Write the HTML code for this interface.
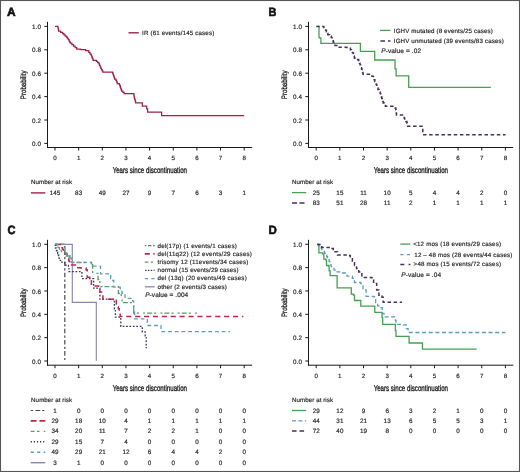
<!DOCTYPE html>
<html><head><meta charset="utf-8"><style>
html,body{margin:0;padding:0;background:#fff;}
svg{display:block;font-family:"Liberation Sans", sans-serif;will-change:transform;text-rendering:geometricPrecision;}
</style></head><body>
<svg width="520" height="472" viewBox="0 0 520 472">
<rect width="520" height="472" fill="#fff"/>
<text x="7.00" y="15.50" font-size="12.0" textLength="8.6" lengthAdjust="spacingAndGlyphs" font-weight="bold" fill="#111" stroke="#111" stroke-width="0.6">A</text>
<line x1="47.50" y1="21.80" x2="47.50" y2="148.00" stroke="#1a1a1a" stroke-width="1"/>
<line x1="47.00" y1="147.50" x2="252.20" y2="147.50" stroke="#1a1a1a" stroke-width="1"/>
<line x1="44.30" y1="143.40" x2="47.50" y2="143.40" stroke="#1a1a1a" stroke-width="1"/>
<text x="41.00" y="145.95" font-size="6.3" text-anchor="end" letter-spacing="0.1" fill="#2a2a2a" stroke="#2a2a2a" stroke-width="0.18">0.0</text>
<line x1="44.30" y1="120.00" x2="47.50" y2="120.00" stroke="#1a1a1a" stroke-width="1"/>
<text x="41.00" y="122.55" font-size="6.3" text-anchor="end" letter-spacing="0.1" fill="#2a2a2a" stroke="#2a2a2a" stroke-width="0.18">0.2</text>
<line x1="44.30" y1="96.60" x2="47.50" y2="96.60" stroke="#1a1a1a" stroke-width="1"/>
<text x="41.00" y="99.15" font-size="6.3" text-anchor="end" letter-spacing="0.1" fill="#2a2a2a" stroke="#2a2a2a" stroke-width="0.18">0.4</text>
<line x1="44.30" y1="73.20" x2="47.50" y2="73.20" stroke="#1a1a1a" stroke-width="1"/>
<text x="41.00" y="75.75" font-size="6.3" text-anchor="end" letter-spacing="0.1" fill="#2a2a2a" stroke="#2a2a2a" stroke-width="0.18">0.6</text>
<line x1="44.30" y1="49.80" x2="47.50" y2="49.80" stroke="#1a1a1a" stroke-width="1"/>
<text x="41.00" y="52.35" font-size="6.3" text-anchor="end" letter-spacing="0.1" fill="#2a2a2a" stroke="#2a2a2a" stroke-width="0.18">0.8</text>
<line x1="44.30" y1="26.40" x2="47.50" y2="26.40" stroke="#1a1a1a" stroke-width="1"/>
<text x="41.00" y="28.95" font-size="6.3" text-anchor="end" letter-spacing="0.1" fill="#2a2a2a" stroke="#2a2a2a" stroke-width="0.18">1.0</text>
<line x1="55.00" y1="147.50" x2="55.00" y2="150.50" stroke="#1a1a1a" stroke-width="1"/>
<text x="55.00" y="159.80" font-size="6.2" text-anchor="middle" fill="#2a2a2a" stroke="#2a2a2a" stroke-width="0.18">0</text>
<line x1="78.65" y1="147.50" x2="78.65" y2="150.50" stroke="#1a1a1a" stroke-width="1"/>
<text x="78.65" y="159.80" font-size="6.2" text-anchor="middle" fill="#2a2a2a" stroke="#2a2a2a" stroke-width="0.18">1</text>
<line x1="102.30" y1="147.50" x2="102.30" y2="150.50" stroke="#1a1a1a" stroke-width="1"/>
<text x="102.30" y="159.80" font-size="6.2" text-anchor="middle" fill="#2a2a2a" stroke="#2a2a2a" stroke-width="0.18">2</text>
<line x1="125.95" y1="147.50" x2="125.95" y2="150.50" stroke="#1a1a1a" stroke-width="1"/>
<text x="125.95" y="159.80" font-size="6.2" text-anchor="middle" fill="#2a2a2a" stroke="#2a2a2a" stroke-width="0.18">3</text>
<line x1="149.60" y1="147.50" x2="149.60" y2="150.50" stroke="#1a1a1a" stroke-width="1"/>
<text x="149.60" y="159.80" font-size="6.2" text-anchor="middle" fill="#2a2a2a" stroke="#2a2a2a" stroke-width="0.18">4</text>
<line x1="173.25" y1="147.50" x2="173.25" y2="150.50" stroke="#1a1a1a" stroke-width="1"/>
<text x="173.25" y="159.80" font-size="6.2" text-anchor="middle" fill="#2a2a2a" stroke="#2a2a2a" stroke-width="0.18">5</text>
<line x1="196.90" y1="147.50" x2="196.90" y2="150.50" stroke="#1a1a1a" stroke-width="1"/>
<text x="196.90" y="159.80" font-size="6.2" text-anchor="middle" fill="#2a2a2a" stroke="#2a2a2a" stroke-width="0.18">6</text>
<line x1="220.55" y1="147.50" x2="220.55" y2="150.50" stroke="#1a1a1a" stroke-width="1"/>
<text x="220.55" y="159.80" font-size="6.2" text-anchor="middle" fill="#2a2a2a" stroke="#2a2a2a" stroke-width="0.18">7</text>
<line x1="244.20" y1="147.50" x2="244.20" y2="150.50" stroke="#1a1a1a" stroke-width="1"/>
<text x="244.20" y="159.80" font-size="6.2" text-anchor="middle" fill="#2a2a2a" stroke="#2a2a2a" stroke-width="0.18">8</text>
<text x="149.85" y="173.20" font-size="8.4" text-anchor="middle" textLength="74.4" lengthAdjust="spacingAndGlyphs" fill="#1a1a1a" stroke="#1a1a1a" stroke-width="0.32">Years since discontinuation</text>
<text x="0" y="0" font-size="7.9" text-anchor="middle" textLength="28.6" lengthAdjust="spacingAndGlyphs" fill="#1e1e1e" stroke="#1e1e1e" stroke-width="0.3" transform="translate(25.60,84.85) rotate(-90)">Probability</text>
<line x1="128.50" y1="32.80" x2="138.80" y2="32.80" stroke="#9e2246" stroke-width="1.4"/>
<text x="142.10" y="34.80" font-size="6.2" textLength="72.1" lengthAdjust="spacing" fill="#2a2a2a" stroke="#2a2a2a" stroke-width="0.18">IR (61 events/145 cases)</text>
<path d="M55.00,26.40 L57.90,26.40 L57.90,27.40 L58.13,27.40 L58.13,28.67 L58.37,28.67 L58.37,29.93 L58.60,29.93 L58.60,31.20 L60.65,31.20 L60.65,32.45 L62.70,32.45 L62.70,33.70 L63.97,33.70 L63.97,34.87 L65.23,34.87 L65.23,36.03 L66.50,36.03 L66.50,37.20 L67.37,37.20 L67.37,38.47 L68.23,38.47 L68.23,39.73 L69.10,39.73 L69.10,41.00 L69.70,41.00 L69.70,42.05 L70.30,42.05 L70.30,43.10 L71.90,43.10 L71.90,44.55 L73.50,44.55 L73.50,46.00 L75.10,46.00 L75.10,47.60 L76.70,47.60 L76.70,49.20 L80.50,49.20 L80.50,49.50 L85.60,49.50 L85.60,50.50 L88.80,50.50 L88.80,52.40 L90.05,52.40 L90.05,54.00 L91.30,54.00 L91.30,55.60 L91.78,55.60 L91.78,56.80 L92.25,56.80 L92.25,58.00 L92.72,58.00 L92.72,59.20 L93.20,59.20 L93.20,60.40 L96.40,60.40 L96.40,61.30 L97.65,61.30 L97.65,62.55 L98.90,62.55 L98.90,63.80 L99.53,63.80 L99.53,65.30 L100.17,65.30 L100.17,66.80 L100.80,66.80 L100.80,68.30 L101.47,68.30 L101.47,69.57 L102.13,69.57 L102.13,70.83 L102.80,70.83 L102.80,72.10 L111.40,72.10 L112.70,72.10 L112.70,73.30 L113.17,73.30 L113.17,74.75 L113.65,74.75 L113.65,76.20 L114.12,76.20 L114.12,77.65 L114.60,77.65 L114.60,79.10 L115.90,79.10 L115.90,80.30 L116.55,80.30 L116.55,81.90 L117.20,81.90 L117.20,83.50 L119.10,83.50 L119.10,84.10 L119.70,84.10 L119.70,85.70 L120.30,85.70 L120.30,87.30 L120.73,87.30 L120.73,88.57 L121.17,88.57 L121.17,89.83 L121.60,89.83 L121.60,91.10 L122.85,91.10 L122.85,92.40 L124.10,92.40 L124.10,93.70 L133.70,93.70 L133.70,93.90 L133.90,93.90 L133.90,95.30 L134.10,95.30 L134.10,96.70 L134.30,96.70 L134.30,98.10 L134.73,98.10 L134.73,99.67 L135.17,99.67 L135.17,101.23 L135.60,101.23 L135.60,102.80 L142.30,102.80 L142.30,106.00 L146.20,106.00 L146.70,106.00 L146.70,108.80 L147.60,108.80 L147.60,112.00 L161.60,112.00 L161.60,115.70 L244.20,115.70" fill="none" stroke="#9e2246" stroke-width="1.25" stroke-linejoin="miter" stroke-linecap="butt"/>
<text x="31.00" y="184.00" font-size="6.2" textLength="41.0" lengthAdjust="spacing" fill="#2a2a2a" stroke="#2a2a2a" stroke-width="0.18">Number at risk</text>
<line x1="30.90" y1="192.90" x2="45.30" y2="192.90" stroke="#9e2246" stroke-width="1.4"/>
<text x="55.05" y="195.00" font-size="6.3" text-anchor="middle" letter-spacing="0.1" fill="#2a2a2a" stroke="#2a2a2a" stroke-width="0.18">145</text>
<text x="78.70" y="195.00" font-size="6.3" text-anchor="middle" letter-spacing="0.1" fill="#2a2a2a" stroke="#2a2a2a" stroke-width="0.18">83</text>
<text x="102.35" y="195.00" font-size="6.3" text-anchor="middle" letter-spacing="0.1" fill="#2a2a2a" stroke="#2a2a2a" stroke-width="0.18">49</text>
<text x="126.00" y="195.00" font-size="6.3" text-anchor="middle" letter-spacing="0.1" fill="#2a2a2a" stroke="#2a2a2a" stroke-width="0.18">27</text>
<text x="149.65" y="195.00" font-size="6.3" text-anchor="middle" letter-spacing="0.1" fill="#2a2a2a" stroke="#2a2a2a" stroke-width="0.18">9</text>
<text x="173.30" y="195.00" font-size="6.3" text-anchor="middle" letter-spacing="0.1" fill="#2a2a2a" stroke="#2a2a2a" stroke-width="0.18">7</text>
<text x="196.95" y="195.00" font-size="6.3" text-anchor="middle" letter-spacing="0.1" fill="#2a2a2a" stroke="#2a2a2a" stroke-width="0.18">6</text>
<text x="220.60" y="195.00" font-size="6.3" text-anchor="middle" letter-spacing="0.1" fill="#2a2a2a" stroke="#2a2a2a" stroke-width="0.18">3</text>
<text x="244.25" y="195.00" font-size="6.3" text-anchor="middle" letter-spacing="0.1" fill="#2a2a2a" stroke="#2a2a2a" stroke-width="0.18">1</text>
<text x="268.50" y="15.50" font-size="12.0" textLength="7.9" lengthAdjust="spacingAndGlyphs" font-weight="bold" fill="#111" stroke="#111" stroke-width="0.6">B</text>
<line x1="308.50" y1="21.80" x2="308.50" y2="148.00" stroke="#1a1a1a" stroke-width="1"/>
<line x1="308.00" y1="147.50" x2="513.20" y2="147.50" stroke="#1a1a1a" stroke-width="1"/>
<line x1="305.30" y1="143.40" x2="308.50" y2="143.40" stroke="#1a1a1a" stroke-width="1"/>
<text x="302.00" y="145.95" font-size="6.3" text-anchor="end" letter-spacing="0.1" fill="#2a2a2a" stroke="#2a2a2a" stroke-width="0.18">0.0</text>
<line x1="305.30" y1="120.00" x2="308.50" y2="120.00" stroke="#1a1a1a" stroke-width="1"/>
<text x="302.00" y="122.55" font-size="6.3" text-anchor="end" letter-spacing="0.1" fill="#2a2a2a" stroke="#2a2a2a" stroke-width="0.18">0.2</text>
<line x1="305.30" y1="96.60" x2="308.50" y2="96.60" stroke="#1a1a1a" stroke-width="1"/>
<text x="302.00" y="99.15" font-size="6.3" text-anchor="end" letter-spacing="0.1" fill="#2a2a2a" stroke="#2a2a2a" stroke-width="0.18">0.4</text>
<line x1="305.30" y1="73.20" x2="308.50" y2="73.20" stroke="#1a1a1a" stroke-width="1"/>
<text x="302.00" y="75.75" font-size="6.3" text-anchor="end" letter-spacing="0.1" fill="#2a2a2a" stroke="#2a2a2a" stroke-width="0.18">0.6</text>
<line x1="305.30" y1="49.80" x2="308.50" y2="49.80" stroke="#1a1a1a" stroke-width="1"/>
<text x="302.00" y="52.35" font-size="6.3" text-anchor="end" letter-spacing="0.1" fill="#2a2a2a" stroke="#2a2a2a" stroke-width="0.18">0.8</text>
<line x1="305.30" y1="26.40" x2="308.50" y2="26.40" stroke="#1a1a1a" stroke-width="1"/>
<text x="302.00" y="28.95" font-size="6.3" text-anchor="end" letter-spacing="0.1" fill="#2a2a2a" stroke="#2a2a2a" stroke-width="0.18">1.0</text>
<line x1="316.20" y1="147.50" x2="316.20" y2="150.50" stroke="#1a1a1a" stroke-width="1"/>
<text x="316.20" y="159.80" font-size="6.2" text-anchor="middle" fill="#2a2a2a" stroke="#2a2a2a" stroke-width="0.18">0</text>
<line x1="339.85" y1="147.50" x2="339.85" y2="150.50" stroke="#1a1a1a" stroke-width="1"/>
<text x="339.85" y="159.80" font-size="6.2" text-anchor="middle" fill="#2a2a2a" stroke="#2a2a2a" stroke-width="0.18">1</text>
<line x1="363.50" y1="147.50" x2="363.50" y2="150.50" stroke="#1a1a1a" stroke-width="1"/>
<text x="363.50" y="159.80" font-size="6.2" text-anchor="middle" fill="#2a2a2a" stroke="#2a2a2a" stroke-width="0.18">2</text>
<line x1="387.15" y1="147.50" x2="387.15" y2="150.50" stroke="#1a1a1a" stroke-width="1"/>
<text x="387.15" y="159.80" font-size="6.2" text-anchor="middle" fill="#2a2a2a" stroke="#2a2a2a" stroke-width="0.18">3</text>
<line x1="410.80" y1="147.50" x2="410.80" y2="150.50" stroke="#1a1a1a" stroke-width="1"/>
<text x="410.80" y="159.80" font-size="6.2" text-anchor="middle" fill="#2a2a2a" stroke="#2a2a2a" stroke-width="0.18">4</text>
<line x1="434.45" y1="147.50" x2="434.45" y2="150.50" stroke="#1a1a1a" stroke-width="1"/>
<text x="434.45" y="159.80" font-size="6.2" text-anchor="middle" fill="#2a2a2a" stroke="#2a2a2a" stroke-width="0.18">5</text>
<line x1="458.10" y1="147.50" x2="458.10" y2="150.50" stroke="#1a1a1a" stroke-width="1"/>
<text x="458.10" y="159.80" font-size="6.2" text-anchor="middle" fill="#2a2a2a" stroke="#2a2a2a" stroke-width="0.18">6</text>
<line x1="481.75" y1="147.50" x2="481.75" y2="150.50" stroke="#1a1a1a" stroke-width="1"/>
<text x="481.75" y="159.80" font-size="6.2" text-anchor="middle" fill="#2a2a2a" stroke="#2a2a2a" stroke-width="0.18">7</text>
<line x1="505.40" y1="147.50" x2="505.40" y2="150.50" stroke="#1a1a1a" stroke-width="1"/>
<text x="505.40" y="159.80" font-size="6.2" text-anchor="middle" fill="#2a2a2a" stroke="#2a2a2a" stroke-width="0.18">8</text>
<text x="410.85" y="173.20" font-size="8.4" text-anchor="middle" textLength="74.4" lengthAdjust="spacingAndGlyphs" fill="#1a1a1a" stroke="#1a1a1a" stroke-width="0.32">Years since discontinuation</text>
<text x="0" y="0" font-size="7.9" text-anchor="middle" textLength="28.6" lengthAdjust="spacingAndGlyphs" fill="#1e1e1e" stroke="#1e1e1e" stroke-width="0.3" transform="translate(286.60,84.85) rotate(-90)">Probability</text>
<line x1="380.00" y1="30.40" x2="390.40" y2="30.40" stroke="#46a050" stroke-width="1.3"/>
<text x="393.80" y="32.50" font-size="6.2" textLength="99.1" lengthAdjust="spacing" fill="#2a2a2a" stroke="#2a2a2a" stroke-width="0.18">IGHV mutated (8 events/25 cases)</text>
<line x1="380.40" y1="41.00" x2="390.40" y2="41.00" stroke="#47305a" stroke-width="1.5" stroke-dasharray="4.6 3"/>
<text x="393.80" y="42.80" font-size="6.2" textLength="110.0" lengthAdjust="spacing" fill="#2a2a2a" stroke="#2a2a2a" stroke-width="0.18">IGHV unmutated (39 events/83 cases)</text>
<text x="381.3" y="53.0" font-size="6.5" textLength="39.7" lengthAdjust="spacing" fill="#2a2a2a" stroke="#2a2a2a" stroke-width="0.2"><tspan font-style="italic">P</tspan>-value = .02</text>
<path d="M316.40,26.40 L319.00,26.40 L319.00,37.80 L320.90,37.80 L320.90,43.30 L360.40,43.30 L360.40,51.40 L374.70,51.40 L374.70,60.00 L395.00,60.00 L395.00,68.80 L396.10,68.80 L396.10,75.80 L408.70,75.80 L408.70,87.30 L490.80,87.30" fill="none" stroke="#46a050" stroke-width="1.3" stroke-linejoin="miter" stroke-linecap="butt"/>
<path d="M316.40,26.50 L322.00,26.50 L323.85,26.50 L323.85,28.40 L325.70,28.40 L325.70,30.20 L326.40,30.20 L326.40,31.73 L327.10,31.73 L327.10,33.27 L327.80,33.27 L327.80,34.80 L329.50,34.80 L329.50,36.20 L331.20,36.20 L331.20,37.60 L332.05,37.60 L332.05,39.20 L332.90,39.20 L332.90,40.80 L333.30,40.80 L333.30,42.05 L333.70,42.05 L333.70,43.30 L335.00,43.30 L335.00,45.40 L339.20,45.40 L339.20,47.30 L346.50,47.30 L346.50,47.50 L350.40,47.50 L350.40,49.80 L351.40,49.80 L351.40,51.30 L352.40,51.30 L352.40,52.80 L353.40,52.80 L353.40,54.30 L353.87,54.30 L353.87,56.03 L354.33,56.03 L354.33,57.77 L354.80,57.77 L354.80,59.50 L358.50,59.50 L358.50,60.50 L359.00,60.50 L359.00,61.90 L359.50,61.90 L359.50,63.30 L360.00,63.30 L360.00,64.70 L360.50,64.70 L360.50,66.17 L361.00,66.17 L361.00,67.63 L361.50,67.63 L361.50,69.10 L362.00,69.10 L362.00,70.83 L362.50,70.83 L362.50,72.57 L363.00,72.57 L363.00,74.30 L370.40,74.30 L370.40,74.60 L371.90,74.60 L371.90,76.30 L373.40,76.30 L373.40,78.00 L374.13,78.00 L374.13,79.73 L374.87,79.73 L374.87,81.47 L375.60,81.47 L375.60,83.20 L376.20,83.20 L376.20,84.80 L376.80,84.80 L376.80,86.40 L377.40,86.40 L377.40,88.00 L378.00,88.00 L378.00,89.60 L379.10,89.60 L379.10,91.50 L380.20,91.50 L380.20,93.40 L380.70,93.40 L380.70,95.10 L381.20,95.10 L381.20,96.80 L381.70,96.80 L381.70,98.50 L382.20,98.50 L382.20,100.00 L382.70,100.00 L382.70,101.50 L383.20,101.50 L383.20,103.00 L384.30,103.00 L384.30,104.60 L385.40,104.60 L385.40,106.20 L394.30,106.20 L395.05,106.20 L395.05,107.95 L395.80,107.95 L395.80,109.70 L396.03,109.70 L396.03,111.47 L396.27,111.47 L396.27,113.23 L396.50,113.23 L396.50,115.00 L403.20,115.00 L403.70,115.00 L403.70,116.60 L404.20,116.60 L404.20,118.20 L404.70,118.20 L404.70,119.80 L405.80,119.80 L405.80,121.40 L406.90,121.40 L406.90,123.00 L407.25,123.00 L407.25,124.65 L407.60,124.65 L407.60,126.30 L422.80,126.30 L422.80,134.80 L505.60,134.80" fill="none" stroke="#47305a" stroke-width="1.5" stroke-dasharray="3.5 2.65" stroke-dashoffset="0.35" stroke-linejoin="miter" stroke-linecap="butt"/>
<text x="292.00" y="184.00" font-size="6.2" textLength="41.0" lengthAdjust="spacing" fill="#2a2a2a" stroke="#2a2a2a" stroke-width="0.18">Number at risk</text>
<line x1="292.00" y1="192.60" x2="306.20" y2="192.60" stroke="#46a050" stroke-width="1.3"/>
<line x1="292.00" y1="203.00" x2="306.20" y2="203.00" stroke="#47305a" stroke-width="1.5" stroke-dasharray="5 2.5"/>
<text x="316.25" y="194.80" font-size="6.3" text-anchor="middle" letter-spacing="0.1" fill="#2a2a2a" stroke="#2a2a2a" stroke-width="0.18">25</text>
<text x="339.90" y="194.80" font-size="6.3" text-anchor="middle" letter-spacing="0.1" fill="#2a2a2a" stroke="#2a2a2a" stroke-width="0.18">15</text>
<text x="363.55" y="194.80" font-size="6.3" text-anchor="middle" letter-spacing="0.1" fill="#2a2a2a" stroke="#2a2a2a" stroke-width="0.18">11</text>
<text x="387.20" y="194.80" font-size="6.3" text-anchor="middle" letter-spacing="0.1" fill="#2a2a2a" stroke="#2a2a2a" stroke-width="0.18">10</text>
<text x="410.85" y="194.80" font-size="6.3" text-anchor="middle" letter-spacing="0.1" fill="#2a2a2a" stroke="#2a2a2a" stroke-width="0.18">5</text>
<text x="434.50" y="194.80" font-size="6.3" text-anchor="middle" letter-spacing="0.1" fill="#2a2a2a" stroke="#2a2a2a" stroke-width="0.18">4</text>
<text x="458.15" y="194.80" font-size="6.3" text-anchor="middle" letter-spacing="0.1" fill="#2a2a2a" stroke="#2a2a2a" stroke-width="0.18">4</text>
<text x="481.80" y="194.80" font-size="6.3" text-anchor="middle" letter-spacing="0.1" fill="#2a2a2a" stroke="#2a2a2a" stroke-width="0.18">2</text>
<text x="505.45" y="194.80" font-size="6.3" text-anchor="middle" letter-spacing="0.1" fill="#2a2a2a" stroke="#2a2a2a" stroke-width="0.18">0</text>
<text x="316.25" y="205.20" font-size="6.3" text-anchor="middle" letter-spacing="0.1" fill="#2a2a2a" stroke="#2a2a2a" stroke-width="0.18">83</text>
<text x="339.90" y="205.20" font-size="6.3" text-anchor="middle" letter-spacing="0.1" fill="#2a2a2a" stroke="#2a2a2a" stroke-width="0.18">51</text>
<text x="363.55" y="205.20" font-size="6.3" text-anchor="middle" letter-spacing="0.1" fill="#2a2a2a" stroke="#2a2a2a" stroke-width="0.18">28</text>
<text x="387.20" y="205.20" font-size="6.3" text-anchor="middle" letter-spacing="0.1" fill="#2a2a2a" stroke="#2a2a2a" stroke-width="0.18">11</text>
<text x="410.85" y="205.20" font-size="6.3" text-anchor="middle" letter-spacing="0.1" fill="#2a2a2a" stroke="#2a2a2a" stroke-width="0.18">2</text>
<text x="434.50" y="205.20" font-size="6.3" text-anchor="middle" letter-spacing="0.1" fill="#2a2a2a" stroke="#2a2a2a" stroke-width="0.18">1</text>
<text x="458.15" y="205.20" font-size="6.3" text-anchor="middle" letter-spacing="0.1" fill="#2a2a2a" stroke="#2a2a2a" stroke-width="0.18">1</text>
<text x="481.80" y="205.20" font-size="6.3" text-anchor="middle" letter-spacing="0.1" fill="#2a2a2a" stroke="#2a2a2a" stroke-width="0.18">1</text>
<text x="505.45" y="205.20" font-size="6.3" text-anchor="middle" letter-spacing="0.1" fill="#2a2a2a" stroke="#2a2a2a" stroke-width="0.18">1</text>
<text x="7.40" y="233.70" font-size="12.0" textLength="8.0" lengthAdjust="spacingAndGlyphs" font-weight="bold" fill="#111" stroke="#111" stroke-width="0.6">C</text>
<line x1="47.50" y1="239.80" x2="47.50" y2="365.70" stroke="#1a1a1a" stroke-width="1"/>
<line x1="47.00" y1="365.20" x2="252.20" y2="365.20" stroke="#1a1a1a" stroke-width="1"/>
<line x1="44.30" y1="361.00" x2="47.50" y2="361.00" stroke="#1a1a1a" stroke-width="1"/>
<text x="41.00" y="363.55" font-size="6.3" text-anchor="end" letter-spacing="0.1" fill="#2a2a2a" stroke="#2a2a2a" stroke-width="0.18">0.0</text>
<line x1="44.30" y1="337.66" x2="47.50" y2="337.66" stroke="#1a1a1a" stroke-width="1"/>
<text x="41.00" y="340.21" font-size="6.3" text-anchor="end" letter-spacing="0.1" fill="#2a2a2a" stroke="#2a2a2a" stroke-width="0.18">0.2</text>
<line x1="44.30" y1="314.32" x2="47.50" y2="314.32" stroke="#1a1a1a" stroke-width="1"/>
<text x="41.00" y="316.87" font-size="6.3" text-anchor="end" letter-spacing="0.1" fill="#2a2a2a" stroke="#2a2a2a" stroke-width="0.18">0.4</text>
<line x1="44.30" y1="290.98" x2="47.50" y2="290.98" stroke="#1a1a1a" stroke-width="1"/>
<text x="41.00" y="293.53" font-size="6.3" text-anchor="end" letter-spacing="0.1" fill="#2a2a2a" stroke="#2a2a2a" stroke-width="0.18">0.6</text>
<line x1="44.30" y1="267.64" x2="47.50" y2="267.64" stroke="#1a1a1a" stroke-width="1"/>
<text x="41.00" y="270.19" font-size="6.3" text-anchor="end" letter-spacing="0.1" fill="#2a2a2a" stroke="#2a2a2a" stroke-width="0.18">0.8</text>
<line x1="44.30" y1="244.30" x2="47.50" y2="244.30" stroke="#1a1a1a" stroke-width="1"/>
<text x="41.00" y="246.85" font-size="6.3" text-anchor="end" letter-spacing="0.1" fill="#2a2a2a" stroke="#2a2a2a" stroke-width="0.18">1.0</text>
<line x1="55.00" y1="365.20" x2="55.00" y2="368.20" stroke="#1a1a1a" stroke-width="1"/>
<text x="55.00" y="377.50" font-size="6.2" text-anchor="middle" fill="#2a2a2a" stroke="#2a2a2a" stroke-width="0.18">0</text>
<line x1="78.65" y1="365.20" x2="78.65" y2="368.20" stroke="#1a1a1a" stroke-width="1"/>
<text x="78.65" y="377.50" font-size="6.2" text-anchor="middle" fill="#2a2a2a" stroke="#2a2a2a" stroke-width="0.18">1</text>
<line x1="102.30" y1="365.20" x2="102.30" y2="368.20" stroke="#1a1a1a" stroke-width="1"/>
<text x="102.30" y="377.50" font-size="6.2" text-anchor="middle" fill="#2a2a2a" stroke="#2a2a2a" stroke-width="0.18">2</text>
<line x1="125.95" y1="365.20" x2="125.95" y2="368.20" stroke="#1a1a1a" stroke-width="1"/>
<text x="125.95" y="377.50" font-size="6.2" text-anchor="middle" fill="#2a2a2a" stroke="#2a2a2a" stroke-width="0.18">3</text>
<line x1="149.60" y1="365.20" x2="149.60" y2="368.20" stroke="#1a1a1a" stroke-width="1"/>
<text x="149.60" y="377.50" font-size="6.2" text-anchor="middle" fill="#2a2a2a" stroke="#2a2a2a" stroke-width="0.18">4</text>
<line x1="173.25" y1="365.20" x2="173.25" y2="368.20" stroke="#1a1a1a" stroke-width="1"/>
<text x="173.25" y="377.50" font-size="6.2" text-anchor="middle" fill="#2a2a2a" stroke="#2a2a2a" stroke-width="0.18">5</text>
<line x1="196.90" y1="365.20" x2="196.90" y2="368.20" stroke="#1a1a1a" stroke-width="1"/>
<text x="196.90" y="377.50" font-size="6.2" text-anchor="middle" fill="#2a2a2a" stroke="#2a2a2a" stroke-width="0.18">6</text>
<line x1="220.55" y1="365.20" x2="220.55" y2="368.20" stroke="#1a1a1a" stroke-width="1"/>
<text x="220.55" y="377.50" font-size="6.2" text-anchor="middle" fill="#2a2a2a" stroke="#2a2a2a" stroke-width="0.18">7</text>
<line x1="244.20" y1="365.20" x2="244.20" y2="368.20" stroke="#1a1a1a" stroke-width="1"/>
<text x="244.20" y="377.50" font-size="6.2" text-anchor="middle" fill="#2a2a2a" stroke="#2a2a2a" stroke-width="0.18">8</text>
<text x="149.85" y="390.90" font-size="8.4" text-anchor="middle" textLength="74.4" lengthAdjust="spacingAndGlyphs" fill="#1a1a1a" stroke="#1a1a1a" stroke-width="0.32">Years since discontinuation</text>
<text x="0" y="0" font-size="7.9" text-anchor="middle" textLength="28.6" lengthAdjust="spacingAndGlyphs" fill="#1e1e1e" stroke="#1e1e1e" stroke-width="0.3" transform="translate(25.60,302.70) rotate(-90)">Probability</text>
<line x1="144.80" y1="245.70" x2="154.60" y2="245.70" stroke="#4a4a4a" stroke-width="1.1" stroke-dasharray="1.6 1.6 3.4 1.6"/>
<text x="157.60" y="247.60" font-size="6.2" textLength="79.1" lengthAdjust="spacing" fill="#2a2a2a" stroke="#2a2a2a" stroke-width="0.18">del(17p) (1 events/1 cases)</text>
<line x1="144.80" y1="253.92" x2="154.60" y2="253.92" stroke="#b82a48" stroke-width="1.6" stroke-dasharray="5 3.5"/>
<text x="157.60" y="255.82" font-size="6.2" textLength="94.3" lengthAdjust="spacing" fill="#2a2a2a" stroke="#2a2a2a" stroke-width="0.18">del(11q22) (12 events/29 cases)</text>
<line x1="144.80" y1="262.14" x2="154.60" y2="262.14" stroke="#5a9e62" stroke-width="1.3" stroke-dasharray="3.6 2.4 2.2 2.4"/>
<text x="157.60" y="264.04" font-size="6.2" textLength="90.6" lengthAdjust="spacing" fill="#2a2a2a" stroke="#2a2a2a" stroke-width="0.18">trisomy 12 (11events/34 cases)</text>
<line x1="145.10" y1="270.36" x2="154.60" y2="270.36" stroke="#30365e" stroke-width="1.4" stroke-dasharray="1.4 1.45"/>
<text x="157.60" y="272.26" font-size="6.2" textLength="81.0" lengthAdjust="spacing" fill="#2a2a2a" stroke="#2a2a2a" stroke-width="0.18">normal (15 events/29 cases)</text>
<line x1="144.80" y1="278.58" x2="154.60" y2="278.58" stroke="#5c9cba" stroke-width="1.3" stroke-dasharray="3.2 3.4"/>
<text x="157.60" y="280.48" font-size="6.2" textLength="89.1" lengthAdjust="spacing" fill="#2a2a2a" stroke="#2a2a2a" stroke-width="0.18">del (13q) (20 events/49 cases)</text>
<line x1="144.80" y1="286.80" x2="154.60" y2="286.80" stroke="#8a86ae" stroke-width="1.3"/>
<text x="157.60" y="288.70" font-size="6.2" textLength="69.2" lengthAdjust="spacing" fill="#2a2a2a" stroke="#2a2a2a" stroke-width="0.18">other (2 events/3 cases)</text>
<text x="145.2" y="296.7" font-size="6.5" textLength="43.0" lengthAdjust="spacing" fill="#2a2a2a" stroke="#2a2a2a" stroke-width="0.2"><tspan font-style="italic">P</tspan>-value = .004</text>
<path d="M55.10,244.30 L72.30,244.30 L72.30,302.30 L96.30,302.30 L96.30,360.80" fill="none" stroke="#8a86ae" stroke-width="1.15" stroke-linejoin="miter" stroke-linecap="butt"/>
<path d="M55.10,244.40 L64.80,244.40 L64.80,360.00" fill="none" stroke="#4a4a4a" stroke-width="1.2" stroke-dasharray="2.2 2.2 4.6 2.2" stroke-linejoin="miter" stroke-linecap="butt"/>
<path d="M55.10,244.40 L55.30,244.40 L55.30,246.20 L55.50,246.20 L55.50,248.00 L56.00,248.00 L56.00,249.37 L56.50,249.37 L56.50,250.73 L57.00,250.73 L57.00,252.10 L57.65,252.10 L57.65,253.50 L58.30,253.50 L58.30,254.90 L58.60,254.90 L58.60,256.50 L58.90,256.50 L58.90,258.10 L59.50,258.10 L59.50,260.30 L60.50,260.30 L60.50,262.20 L63.70,262.20 L63.70,262.60 L64.90,262.60 L64.90,265.10 L67.80,265.10 L67.80,265.40 L68.40,265.40 L68.40,267.30 L69.00,267.30 L69.00,271.60 L80.80,271.60 L81.90,271.60 L81.90,278.60 L91.40,278.60 L93.60,278.60 L93.60,288.20 L98.80,288.20 L99.90,288.20 L99.90,299.20 L113.50,299.20 L113.50,299.60 L114.40,299.60 L114.40,308.80 L115.40,308.80 L115.40,317.20 L120.50,317.20 L120.80,317.20 L120.80,326.40 L141.30,326.40 L142.30,326.40 L142.30,331.90 L145.20,331.90 L145.20,335.80 L146.20,335.80 L146.20,348.30" fill="none" stroke="#30365e" stroke-width="1.3" stroke-dasharray="1.7 1.7" stroke-linejoin="miter" stroke-linecap="butt"/>
<path d="M55.10,244.40 L60.00,244.40 L60.00,246.00 L61.25,246.00 L61.25,247.75 L62.50,247.75 L62.50,249.50 L63.55,249.50 L63.55,251.10 L64.60,251.10 L64.60,252.70 L65.90,252.70 L65.90,254.00 L67.20,254.00 L67.20,255.30 L67.80,255.30 L67.80,256.85 L68.40,256.85 L68.40,258.40 L68.75,258.40 L68.75,260.00 L69.10,260.00 L69.10,261.60 L70.50,261.60 L70.50,265.00 L75.50,265.00 L75.50,267.70 L80.80,267.70 L80.80,267.90 L86.10,267.90 L86.10,269.80 L87.20,269.80 L87.20,277.20 L90.40,277.20 L90.40,279.30 L91.40,279.30 L91.40,285.90 L98.80,285.90 L98.80,286.30 L99.90,286.30 L99.90,292.00 L102.90,292.00 L102.90,299.20 L113.50,299.20 L116.30,299.20 L116.30,306.90 L118.30,306.90 L118.30,308.80 L119.20,308.80 L119.20,312.70 L120.20,312.70 L120.20,316.40 L243.40,316.40" fill="none" stroke="#b82a48" stroke-width="1.5" stroke-dasharray="5.1 3.8" stroke-dashoffset="8.20" stroke-linejoin="miter" stroke-linecap="butt"/>
<path d="M55.10,244.40 L56.57,244.40 L56.57,246.00 L58.03,246.00 L58.03,247.60 L59.50,247.60 L59.50,249.20 L60.45,249.20 L60.45,250.95 L61.40,250.95 L61.40,252.70 L63.90,252.70 L63.90,252.80 L66.00,252.80 L66.00,256.00 L71.30,256.00 L71.30,262.50 L92.60,262.50 L92.60,273.30 L98.00,273.30 L98.00,279.50 L99.80,279.50 L99.80,286.60 L118.30,286.60 L118.30,293.50 L121.20,293.50 L121.20,298.30 L122.10,298.30 L122.10,302.70 L133.70,302.70 L133.70,313.10 L198.50,313.10" fill="none" stroke="#5a9e62" stroke-width="1.3" stroke-dasharray="2 2 5 2 2.2 4.1" stroke-dashoffset="16.30" stroke-linejoin="miter" stroke-linecap="butt"/>
<path d="M55.10,244.40 L64.60,244.40 L64.60,246.00 L64.77,246.00 L64.77,247.53 L64.95,247.53 L64.95,249.05 L65.12,249.05 L65.12,250.57 L65.30,250.57 L65.30,252.10 L66.20,252.10 L66.20,253.50 L67.10,253.50 L67.10,254.90 L68.23,254.90 L68.23,256.43 L69.37,256.43 L69.37,257.97 L70.50,257.97 L70.50,259.50 L71.30,259.50 L71.30,262.30 L91.50,262.30 L91.50,266.20 L100.50,266.20 L100.50,273.80 L110.70,273.80 L110.70,278.60 L112.80,278.60 L112.80,280.50 L113.80,280.50 L113.80,287.20 L120.20,287.20 L120.20,291.50 L122.00,291.50 L122.00,293.40 L125.00,293.40 L125.00,298.30 L132.70,298.30 L132.70,301.20 L133.70,301.20 L133.70,308.80 L134.60,308.80 L134.60,318.80 L147.30,318.80 L147.30,325.50 L161.00,325.50 L161.00,331.60 L230.00,331.60" fill="none" stroke="#5c9cba" stroke-width="1.3" stroke-dasharray="3.8 2.9" stroke-dashoffset="0.80" stroke-linejoin="miter" stroke-linecap="butt"/>
<text x="31.10" y="401.80" font-size="6.2" textLength="41.0" lengthAdjust="spacing" fill="#2a2a2a" stroke="#2a2a2a" stroke-width="0.18">Number at risk</text>
<line x1="30.70" y1="410.50" x2="45.30" y2="410.50" stroke="#4a4a4a" stroke-width="1.1" stroke-dasharray="2.3 2.5 4.8 1.8"/>
<text x="55.05" y="412.60" font-size="6.3" text-anchor="middle" letter-spacing="0.1" fill="#2a2a2a" stroke="#2a2a2a" stroke-width="0.18">1</text>
<text x="78.70" y="412.60" font-size="6.3" text-anchor="middle" letter-spacing="0.1" fill="#2a2a2a" stroke="#2a2a2a" stroke-width="0.18">0</text>
<text x="102.35" y="412.60" font-size="6.3" text-anchor="middle" letter-spacing="0.1" fill="#2a2a2a" stroke="#2a2a2a" stroke-width="0.18">0</text>
<text x="126.00" y="412.60" font-size="6.3" text-anchor="middle" letter-spacing="0.1" fill="#2a2a2a" stroke="#2a2a2a" stroke-width="0.18">0</text>
<text x="149.65" y="412.60" font-size="6.3" text-anchor="middle" letter-spacing="0.1" fill="#2a2a2a" stroke="#2a2a2a" stroke-width="0.18">0</text>
<text x="173.30" y="412.60" font-size="6.3" text-anchor="middle" letter-spacing="0.1" fill="#2a2a2a" stroke="#2a2a2a" stroke-width="0.18">0</text>
<text x="196.95" y="412.60" font-size="6.3" text-anchor="middle" letter-spacing="0.1" fill="#2a2a2a" stroke="#2a2a2a" stroke-width="0.18">0</text>
<text x="220.60" y="412.60" font-size="6.3" text-anchor="middle" letter-spacing="0.1" fill="#2a2a2a" stroke="#2a2a2a" stroke-width="0.18">0</text>
<text x="244.25" y="412.60" font-size="6.3" text-anchor="middle" letter-spacing="0.1" fill="#2a2a2a" stroke="#2a2a2a" stroke-width="0.18">0</text>
<line x1="30.70" y1="420.94" x2="45.30" y2="420.94" stroke="#b82a48" stroke-width="1.7" stroke-dasharray="5.8 3"/>
<text x="55.05" y="423.04" font-size="6.3" text-anchor="middle" letter-spacing="0.1" fill="#2a2a2a" stroke="#2a2a2a" stroke-width="0.18">29</text>
<text x="78.70" y="423.04" font-size="6.3" text-anchor="middle" letter-spacing="0.1" fill="#2a2a2a" stroke="#2a2a2a" stroke-width="0.18">18</text>
<text x="102.35" y="423.04" font-size="6.3" text-anchor="middle" letter-spacing="0.1" fill="#2a2a2a" stroke="#2a2a2a" stroke-width="0.18">10</text>
<text x="126.00" y="423.04" font-size="6.3" text-anchor="middle" letter-spacing="0.1" fill="#2a2a2a" stroke="#2a2a2a" stroke-width="0.18">4</text>
<text x="149.65" y="423.04" font-size="6.3" text-anchor="middle" letter-spacing="0.1" fill="#2a2a2a" stroke="#2a2a2a" stroke-width="0.18">1</text>
<text x="173.30" y="423.04" font-size="6.3" text-anchor="middle" letter-spacing="0.1" fill="#2a2a2a" stroke="#2a2a2a" stroke-width="0.18">1</text>
<text x="196.95" y="423.04" font-size="6.3" text-anchor="middle" letter-spacing="0.1" fill="#2a2a2a" stroke="#2a2a2a" stroke-width="0.18">1</text>
<text x="220.60" y="423.04" font-size="6.3" text-anchor="middle" letter-spacing="0.1" fill="#2a2a2a" stroke="#2a2a2a" stroke-width="0.18">1</text>
<text x="244.25" y="423.04" font-size="6.3" text-anchor="middle" letter-spacing="0.1" fill="#2a2a2a" stroke="#2a2a2a" stroke-width="0.18">1</text>
<line x1="30.70" y1="431.38" x2="45.30" y2="431.38" stroke="#5a9e62" stroke-width="1.3" stroke-dasharray="3.8 2.5 2.5 4.3"/>
<text x="55.05" y="433.48" font-size="6.3" text-anchor="middle" letter-spacing="0.1" fill="#2a2a2a" stroke="#2a2a2a" stroke-width="0.18">34</text>
<text x="78.70" y="433.48" font-size="6.3" text-anchor="middle" letter-spacing="0.1" fill="#2a2a2a" stroke="#2a2a2a" stroke-width="0.18">20</text>
<text x="102.35" y="433.48" font-size="6.3" text-anchor="middle" letter-spacing="0.1" fill="#2a2a2a" stroke="#2a2a2a" stroke-width="0.18">11</text>
<text x="126.00" y="433.48" font-size="6.3" text-anchor="middle" letter-spacing="0.1" fill="#2a2a2a" stroke="#2a2a2a" stroke-width="0.18">7</text>
<text x="149.65" y="433.48" font-size="6.3" text-anchor="middle" letter-spacing="0.1" fill="#2a2a2a" stroke="#2a2a2a" stroke-width="0.18">2</text>
<text x="173.30" y="433.48" font-size="6.3" text-anchor="middle" letter-spacing="0.1" fill="#2a2a2a" stroke="#2a2a2a" stroke-width="0.18">2</text>
<text x="196.95" y="433.48" font-size="6.3" text-anchor="middle" letter-spacing="0.1" fill="#2a2a2a" stroke="#2a2a2a" stroke-width="0.18">1</text>
<text x="220.60" y="433.48" font-size="6.3" text-anchor="middle" letter-spacing="0.1" fill="#2a2a2a" stroke="#2a2a2a" stroke-width="0.18">0</text>
<text x="244.25" y="433.48" font-size="6.3" text-anchor="middle" letter-spacing="0.1" fill="#2a2a2a" stroke="#2a2a2a" stroke-width="0.18">0</text>
<line x1="30.70" y1="441.82" x2="45.30" y2="441.82" stroke="#30365e" stroke-width="1.4" stroke-dasharray="1.2 1.9"/>
<text x="55.05" y="443.92" font-size="6.3" text-anchor="middle" letter-spacing="0.1" fill="#2a2a2a" stroke="#2a2a2a" stroke-width="0.18">29</text>
<text x="78.70" y="443.92" font-size="6.3" text-anchor="middle" letter-spacing="0.1" fill="#2a2a2a" stroke="#2a2a2a" stroke-width="0.18">15</text>
<text x="102.35" y="443.92" font-size="6.3" text-anchor="middle" letter-spacing="0.1" fill="#2a2a2a" stroke="#2a2a2a" stroke-width="0.18">7</text>
<text x="126.00" y="443.92" font-size="6.3" text-anchor="middle" letter-spacing="0.1" fill="#2a2a2a" stroke="#2a2a2a" stroke-width="0.18">4</text>
<text x="149.65" y="443.92" font-size="6.3" text-anchor="middle" letter-spacing="0.1" fill="#2a2a2a" stroke="#2a2a2a" stroke-width="0.18">0</text>
<text x="173.30" y="443.92" font-size="6.3" text-anchor="middle" letter-spacing="0.1" fill="#2a2a2a" stroke="#2a2a2a" stroke-width="0.18">0</text>
<text x="196.95" y="443.92" font-size="6.3" text-anchor="middle" letter-spacing="0.1" fill="#2a2a2a" stroke="#2a2a2a" stroke-width="0.18">0</text>
<text x="220.60" y="443.92" font-size="6.3" text-anchor="middle" letter-spacing="0.1" fill="#2a2a2a" stroke="#2a2a2a" stroke-width="0.18">0</text>
<text x="244.25" y="443.92" font-size="6.3" text-anchor="middle" letter-spacing="0.1" fill="#2a2a2a" stroke="#2a2a2a" stroke-width="0.18">0</text>
<line x1="30.70" y1="452.26" x2="45.30" y2="452.26" stroke="#5c9cba" stroke-width="1.3" stroke-dasharray="3.1 3.4"/>
<text x="55.05" y="454.36" font-size="6.3" text-anchor="middle" letter-spacing="0.1" fill="#2a2a2a" stroke="#2a2a2a" stroke-width="0.18">49</text>
<text x="78.70" y="454.36" font-size="6.3" text-anchor="middle" letter-spacing="0.1" fill="#2a2a2a" stroke="#2a2a2a" stroke-width="0.18">29</text>
<text x="102.35" y="454.36" font-size="6.3" text-anchor="middle" letter-spacing="0.1" fill="#2a2a2a" stroke="#2a2a2a" stroke-width="0.18">21</text>
<text x="126.00" y="454.36" font-size="6.3" text-anchor="middle" letter-spacing="0.1" fill="#2a2a2a" stroke="#2a2a2a" stroke-width="0.18">12</text>
<text x="149.65" y="454.36" font-size="6.3" text-anchor="middle" letter-spacing="0.1" fill="#2a2a2a" stroke="#2a2a2a" stroke-width="0.18">6</text>
<text x="173.30" y="454.36" font-size="6.3" text-anchor="middle" letter-spacing="0.1" fill="#2a2a2a" stroke="#2a2a2a" stroke-width="0.18">4</text>
<text x="196.95" y="454.36" font-size="6.3" text-anchor="middle" letter-spacing="0.1" fill="#2a2a2a" stroke="#2a2a2a" stroke-width="0.18">4</text>
<text x="220.60" y="454.36" font-size="6.3" text-anchor="middle" letter-spacing="0.1" fill="#2a2a2a" stroke="#2a2a2a" stroke-width="0.18">2</text>
<text x="244.25" y="454.36" font-size="6.3" text-anchor="middle" letter-spacing="0.1" fill="#2a2a2a" stroke="#2a2a2a" stroke-width="0.18">0</text>
<line x1="30.70" y1="462.70" x2="45.30" y2="462.70" stroke="#8a86ae" stroke-width="1.4"/>
<text x="55.05" y="464.80" font-size="6.3" text-anchor="middle" letter-spacing="0.1" fill="#2a2a2a" stroke="#2a2a2a" stroke-width="0.18">3</text>
<text x="78.70" y="464.80" font-size="6.3" text-anchor="middle" letter-spacing="0.1" fill="#2a2a2a" stroke="#2a2a2a" stroke-width="0.18">1</text>
<text x="102.35" y="464.80" font-size="6.3" text-anchor="middle" letter-spacing="0.1" fill="#2a2a2a" stroke="#2a2a2a" stroke-width="0.18">0</text>
<text x="126.00" y="464.80" font-size="6.3" text-anchor="middle" letter-spacing="0.1" fill="#2a2a2a" stroke="#2a2a2a" stroke-width="0.18">0</text>
<text x="149.65" y="464.80" font-size="6.3" text-anchor="middle" letter-spacing="0.1" fill="#2a2a2a" stroke="#2a2a2a" stroke-width="0.18">0</text>
<text x="173.30" y="464.80" font-size="6.3" text-anchor="middle" letter-spacing="0.1" fill="#2a2a2a" stroke="#2a2a2a" stroke-width="0.18">0</text>
<text x="196.95" y="464.80" font-size="6.3" text-anchor="middle" letter-spacing="0.1" fill="#2a2a2a" stroke="#2a2a2a" stroke-width="0.18">0</text>
<text x="220.60" y="464.80" font-size="6.3" text-anchor="middle" letter-spacing="0.1" fill="#2a2a2a" stroke="#2a2a2a" stroke-width="0.18">0</text>
<text x="244.25" y="464.80" font-size="6.3" text-anchor="middle" letter-spacing="0.1" fill="#2a2a2a" stroke="#2a2a2a" stroke-width="0.18">0</text>
<text x="268.60" y="233.50" font-size="12.0" textLength="8.3" lengthAdjust="spacingAndGlyphs" font-weight="bold" fill="#111" stroke="#111" stroke-width="0.6">D</text>
<line x1="308.50" y1="239.80" x2="308.50" y2="365.70" stroke="#1a1a1a" stroke-width="1"/>
<line x1="308.00" y1="365.20" x2="513.20" y2="365.20" stroke="#1a1a1a" stroke-width="1"/>
<line x1="305.30" y1="361.00" x2="308.50" y2="361.00" stroke="#1a1a1a" stroke-width="1"/>
<text x="302.00" y="363.55" font-size="6.3" text-anchor="end" letter-spacing="0.1" fill="#2a2a2a" stroke="#2a2a2a" stroke-width="0.18">0.0</text>
<line x1="305.30" y1="337.66" x2="308.50" y2="337.66" stroke="#1a1a1a" stroke-width="1"/>
<text x="302.00" y="340.21" font-size="6.3" text-anchor="end" letter-spacing="0.1" fill="#2a2a2a" stroke="#2a2a2a" stroke-width="0.18">0.2</text>
<line x1="305.30" y1="314.32" x2="308.50" y2="314.32" stroke="#1a1a1a" stroke-width="1"/>
<text x="302.00" y="316.87" font-size="6.3" text-anchor="end" letter-spacing="0.1" fill="#2a2a2a" stroke="#2a2a2a" stroke-width="0.18">0.4</text>
<line x1="305.30" y1="290.98" x2="308.50" y2="290.98" stroke="#1a1a1a" stroke-width="1"/>
<text x="302.00" y="293.53" font-size="6.3" text-anchor="end" letter-spacing="0.1" fill="#2a2a2a" stroke="#2a2a2a" stroke-width="0.18">0.6</text>
<line x1="305.30" y1="267.64" x2="308.50" y2="267.64" stroke="#1a1a1a" stroke-width="1"/>
<text x="302.00" y="270.19" font-size="6.3" text-anchor="end" letter-spacing="0.1" fill="#2a2a2a" stroke="#2a2a2a" stroke-width="0.18">0.8</text>
<line x1="305.30" y1="244.30" x2="308.50" y2="244.30" stroke="#1a1a1a" stroke-width="1"/>
<text x="302.00" y="246.85" font-size="6.3" text-anchor="end" letter-spacing="0.1" fill="#2a2a2a" stroke="#2a2a2a" stroke-width="0.18">1.0</text>
<line x1="316.20" y1="365.20" x2="316.20" y2="368.20" stroke="#1a1a1a" stroke-width="1"/>
<text x="316.20" y="377.50" font-size="6.2" text-anchor="middle" fill="#2a2a2a" stroke="#2a2a2a" stroke-width="0.18">0</text>
<line x1="339.85" y1="365.20" x2="339.85" y2="368.20" stroke="#1a1a1a" stroke-width="1"/>
<text x="339.85" y="377.50" font-size="6.2" text-anchor="middle" fill="#2a2a2a" stroke="#2a2a2a" stroke-width="0.18">1</text>
<line x1="363.50" y1="365.20" x2="363.50" y2="368.20" stroke="#1a1a1a" stroke-width="1"/>
<text x="363.50" y="377.50" font-size="6.2" text-anchor="middle" fill="#2a2a2a" stroke="#2a2a2a" stroke-width="0.18">2</text>
<line x1="387.15" y1="365.20" x2="387.15" y2="368.20" stroke="#1a1a1a" stroke-width="1"/>
<text x="387.15" y="377.50" font-size="6.2" text-anchor="middle" fill="#2a2a2a" stroke="#2a2a2a" stroke-width="0.18">3</text>
<line x1="410.80" y1="365.20" x2="410.80" y2="368.20" stroke="#1a1a1a" stroke-width="1"/>
<text x="410.80" y="377.50" font-size="6.2" text-anchor="middle" fill="#2a2a2a" stroke="#2a2a2a" stroke-width="0.18">4</text>
<line x1="434.45" y1="365.20" x2="434.45" y2="368.20" stroke="#1a1a1a" stroke-width="1"/>
<text x="434.45" y="377.50" font-size="6.2" text-anchor="middle" fill="#2a2a2a" stroke="#2a2a2a" stroke-width="0.18">5</text>
<line x1="458.10" y1="365.20" x2="458.10" y2="368.20" stroke="#1a1a1a" stroke-width="1"/>
<text x="458.10" y="377.50" font-size="6.2" text-anchor="middle" fill="#2a2a2a" stroke="#2a2a2a" stroke-width="0.18">6</text>
<line x1="481.75" y1="365.20" x2="481.75" y2="368.20" stroke="#1a1a1a" stroke-width="1"/>
<text x="481.75" y="377.50" font-size="6.2" text-anchor="middle" fill="#2a2a2a" stroke="#2a2a2a" stroke-width="0.18">7</text>
<line x1="505.40" y1="365.20" x2="505.40" y2="368.20" stroke="#1a1a1a" stroke-width="1"/>
<text x="505.40" y="377.50" font-size="6.2" text-anchor="middle" fill="#2a2a2a" stroke="#2a2a2a" stroke-width="0.18">8</text>
<text x="410.85" y="390.90" font-size="8.4" text-anchor="middle" textLength="74.4" lengthAdjust="spacingAndGlyphs" fill="#1a1a1a" stroke="#1a1a1a" stroke-width="0.32">Years since discontinuation</text>
<text x="0" y="0" font-size="7.9" text-anchor="middle" textLength="28.6" lengthAdjust="spacingAndGlyphs" fill="#1e1e1e" stroke="#1e1e1e" stroke-width="0.3" transform="translate(286.60,302.70) rotate(-90)">Probability</text>
<line x1="400.30" y1="244.10" x2="410.40" y2="244.10" stroke="#46a050" stroke-width="1.3"/>
<text x="413.20" y="246.40" font-size="6.2" textLength="87.8" lengthAdjust="spacing" fill="#2a2a2a" stroke="#2a2a2a" stroke-width="0.18">&lt;12 mos (18 events/29 cases)</text>
<line x1="400.30" y1="254.60" x2="410.40" y2="254.60" stroke="#5c9cba" stroke-width="1.3" stroke-dasharray="3.2 3.4"/>
<text x="414.30" y="256.50" font-size="6.2" textLength="98.0" lengthAdjust="spacing" fill="#2a2a2a" stroke="#2a2a2a" stroke-width="0.18">12 – 48 mos (28 events/44 cases)</text>
<line x1="400.30" y1="264.60" x2="410.40" y2="264.60" stroke="#47305a" stroke-width="1.5" stroke-dasharray="4 4.3"/>
<text x="413.60" y="266.40" font-size="6.2" textLength="87.4" lengthAdjust="spacing" fill="#2a2a2a" stroke="#2a2a2a" stroke-width="0.18">&gt;48 mos (15 events/72 cases)</text>
<text x="401.3" y="276.5" font-size="6.5" textLength="39.7" lengthAdjust="spacing" fill="#2a2a2a" stroke="#2a2a2a" stroke-width="0.2"><tspan font-style="italic">P</tspan>-value = .04</text>
<path d="M317.20,244.50 L318.90,244.50 L318.90,252.80 L322.70,252.80 L322.70,253.90 L323.80,253.90 L323.80,259.20 L325.90,259.20 L325.90,260.20 L326.50,260.20 L326.50,265.50 L328.50,265.50 L328.50,266.00 L329.10,266.00 L329.10,270.80 L330.10,270.80 L330.10,275.70 L337.10,275.70 L337.10,287.80 L350.30,287.80 L351.30,287.80 L351.30,294.10 L353.40,294.10 L353.40,295.20 L354.50,295.20 L354.50,300.50 L360.80,300.50 L360.80,306.20 L374.60,306.20 L374.80,306.20 L374.80,312.30 L381.60,312.30 L381.60,312.50 L382.10,312.50 L382.10,317.90 L382.70,317.90 L382.70,324.30 L395.20,324.30 L395.40,324.30 L395.40,330.60 L396.00,330.60 L396.00,336.30 L408.90,336.30 L409.10,336.30 L409.10,343.00 L422.20,343.00 L422.40,343.00 L422.40,349.20 L476.60,349.20" fill="none" stroke="#46a050" stroke-width="1.3" stroke-linejoin="miter" stroke-linecap="butt"/>
<path d="M317.20,244.50 L318.70,244.50 L318.70,246.23 L320.20,246.23 L320.20,247.97 L321.70,247.97 L321.70,249.70 L323.10,249.70 L323.10,251.47 L324.50,251.47 L324.50,253.23 L325.90,253.23 L325.90,255.00 L326.70,255.00 L326.70,256.57 L327.50,256.57 L327.50,258.15 L328.30,258.15 L328.30,259.73 L329.10,259.73 L329.10,261.30 L329.80,261.30 L329.80,263.07 L330.50,263.07 L330.50,264.83 L331.20,264.83 L331.20,266.60 L332.60,266.60 L332.60,268.37 L334.00,268.37 L334.00,270.13 L335.40,270.13 L335.40,271.90 L341.80,271.90 L341.80,273.00 L347.00,273.00 L347.00,276.10 L352.40,276.10 L352.40,278.30 L354.50,278.30 L354.50,282.50 L360.80,282.50 L360.80,283.60 L363.00,283.60 L363.00,289.90 L366.10,289.90 L366.10,296.30 L373.60,296.30 L373.60,296.90 L375.70,296.90 L375.70,302.60 L377.60,302.60 L377.60,305.80 L380.80,305.80 L380.80,307.70 L382.10,307.70 L382.10,313.40 L384.00,313.40 L384.00,316.80 L394.10,316.80 L394.10,316.90 L395.40,316.90 L395.40,320.40 L396.00,320.40 L396.00,324.40 L403.00,324.40 L403.00,324.90 L406.20,324.90 L406.20,328.70 L408.10,328.70 L408.10,332.50 L505.40,332.50" fill="none" stroke="#5c9cba" stroke-width="1.3" stroke-dasharray="4 2.65" stroke-dashoffset="0.00" stroke-linejoin="miter" stroke-linecap="butt"/>
<path d="M317.20,244.50 L321.70,244.50 L321.70,247.50 L329.10,247.50 L329.10,248.60 L333.30,248.60 L333.30,251.80 L337.50,251.80 L337.50,254.90 L347.00,254.90 L347.00,255.40 L350.30,255.40 L350.30,258.10 L352.40,258.10 L352.40,261.30 L354.50,261.30 L354.50,265.50 L356.50,265.50 L356.50,268.50 L358.70,268.50 L358.70,271.90 L361.90,271.90 L361.90,277.40 L371.40,277.40 L371.40,277.80 L373.60,277.80 L373.60,283.60 L376.70,283.60 L376.70,289.90 L378.90,289.90 L378.90,295.20 L382.00,295.20 L382.00,297.30 L383.20,297.30 L383.20,302.30 L402.00,302.30" fill="none" stroke="#47305a" stroke-width="1.5" stroke-dasharray="3.5 2.6" stroke-linejoin="miter" stroke-linecap="butt"/>
<text x="292.00" y="401.50" font-size="6.2" textLength="41.0" lengthAdjust="spacing" fill="#2a2a2a" stroke="#2a2a2a" stroke-width="0.18">Number at risk</text>
<line x1="292.00" y1="410.50" x2="306.20" y2="410.50" stroke="#46a050" stroke-width="1.3"/>
<text x="316.25" y="412.60" font-size="6.3" text-anchor="middle" letter-spacing="0.1" fill="#2a2a2a" stroke="#2a2a2a" stroke-width="0.18">29</text>
<text x="339.90" y="412.60" font-size="6.3" text-anchor="middle" letter-spacing="0.1" fill="#2a2a2a" stroke="#2a2a2a" stroke-width="0.18">12</text>
<text x="363.55" y="412.60" font-size="6.3" text-anchor="middle" letter-spacing="0.1" fill="#2a2a2a" stroke="#2a2a2a" stroke-width="0.18">9</text>
<text x="387.20" y="412.60" font-size="6.3" text-anchor="middle" letter-spacing="0.1" fill="#2a2a2a" stroke="#2a2a2a" stroke-width="0.18">6</text>
<text x="410.85" y="412.60" font-size="6.3" text-anchor="middle" letter-spacing="0.1" fill="#2a2a2a" stroke="#2a2a2a" stroke-width="0.18">3</text>
<text x="434.50" y="412.60" font-size="6.3" text-anchor="middle" letter-spacing="0.1" fill="#2a2a2a" stroke="#2a2a2a" stroke-width="0.18">2</text>
<text x="458.15" y="412.60" font-size="6.3" text-anchor="middle" letter-spacing="0.1" fill="#2a2a2a" stroke="#2a2a2a" stroke-width="0.18">1</text>
<text x="481.80" y="412.60" font-size="6.3" text-anchor="middle" letter-spacing="0.1" fill="#2a2a2a" stroke="#2a2a2a" stroke-width="0.18">0</text>
<text x="505.45" y="412.60" font-size="6.3" text-anchor="middle" letter-spacing="0.1" fill="#2a2a2a" stroke="#2a2a2a" stroke-width="0.18">0</text>
<line x1="292.00" y1="420.80" x2="306.20" y2="420.80" stroke="#5c9cba" stroke-width="1.3" stroke-dasharray="4 2.4"/>
<text x="316.25" y="422.90" font-size="6.3" text-anchor="middle" letter-spacing="0.1" fill="#2a2a2a" stroke="#2a2a2a" stroke-width="0.18">44</text>
<text x="339.90" y="422.90" font-size="6.3" text-anchor="middle" letter-spacing="0.1" fill="#2a2a2a" stroke="#2a2a2a" stroke-width="0.18">31</text>
<text x="363.55" y="422.90" font-size="6.3" text-anchor="middle" letter-spacing="0.1" fill="#2a2a2a" stroke="#2a2a2a" stroke-width="0.18">21</text>
<text x="387.20" y="422.90" font-size="6.3" text-anchor="middle" letter-spacing="0.1" fill="#2a2a2a" stroke="#2a2a2a" stroke-width="0.18">13</text>
<text x="410.85" y="422.90" font-size="6.3" text-anchor="middle" letter-spacing="0.1" fill="#2a2a2a" stroke="#2a2a2a" stroke-width="0.18">6</text>
<text x="434.50" y="422.90" font-size="6.3" text-anchor="middle" letter-spacing="0.1" fill="#2a2a2a" stroke="#2a2a2a" stroke-width="0.18">5</text>
<text x="458.15" y="422.90" font-size="6.3" text-anchor="middle" letter-spacing="0.1" fill="#2a2a2a" stroke="#2a2a2a" stroke-width="0.18">5</text>
<text x="481.80" y="422.90" font-size="6.3" text-anchor="middle" letter-spacing="0.1" fill="#2a2a2a" stroke="#2a2a2a" stroke-width="0.18">3</text>
<text x="505.45" y="422.90" font-size="6.3" text-anchor="middle" letter-spacing="0.1" fill="#2a2a2a" stroke="#2a2a2a" stroke-width="0.18">1</text>
<line x1="292.00" y1="431.10" x2="306.20" y2="431.10" stroke="#47305a" stroke-width="1.5" stroke-dasharray="4.6 2.9"/>
<text x="316.25" y="433.20" font-size="6.3" text-anchor="middle" letter-spacing="0.1" fill="#2a2a2a" stroke="#2a2a2a" stroke-width="0.18">72</text>
<text x="339.90" y="433.20" font-size="6.3" text-anchor="middle" letter-spacing="0.1" fill="#2a2a2a" stroke="#2a2a2a" stroke-width="0.18">40</text>
<text x="363.55" y="433.20" font-size="6.3" text-anchor="middle" letter-spacing="0.1" fill="#2a2a2a" stroke="#2a2a2a" stroke-width="0.18">19</text>
<text x="387.20" y="433.20" font-size="6.3" text-anchor="middle" letter-spacing="0.1" fill="#2a2a2a" stroke="#2a2a2a" stroke-width="0.18">8</text>
<text x="410.85" y="433.20" font-size="6.3" text-anchor="middle" letter-spacing="0.1" fill="#2a2a2a" stroke="#2a2a2a" stroke-width="0.18">0</text>
<text x="434.50" y="433.20" font-size="6.3" text-anchor="middle" letter-spacing="0.1" fill="#2a2a2a" stroke="#2a2a2a" stroke-width="0.18">0</text>
<text x="458.15" y="433.20" font-size="6.3" text-anchor="middle" letter-spacing="0.1" fill="#2a2a2a" stroke="#2a2a2a" stroke-width="0.18">0</text>
<text x="481.80" y="433.20" font-size="6.3" text-anchor="middle" letter-spacing="0.1" fill="#2a2a2a" stroke="#2a2a2a" stroke-width="0.18">0</text>
<text x="505.45" y="433.20" font-size="6.3" text-anchor="middle" letter-spacing="0.1" fill="#2a2a2a" stroke="#2a2a2a" stroke-width="0.18">0</text>
<rect x="0.5" y="0.5" width="519" height="471" fill="none" stroke="#555" stroke-width="1.1"/>
</svg></body></html>
